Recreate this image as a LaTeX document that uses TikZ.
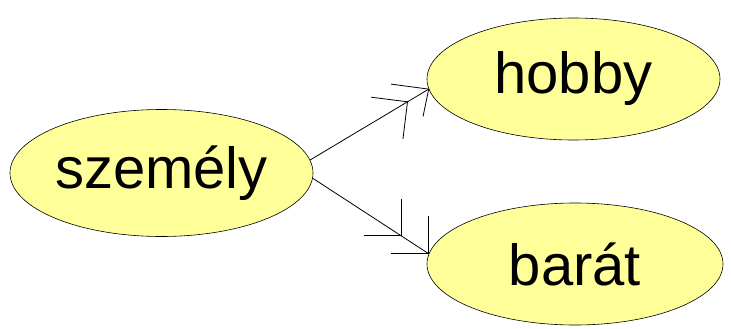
\documentclass[tikz,border=0pt]{standalone}
\usepackage{fontspec}
\setmainfont{Liberation Sans}
\usetikzlibrary{shapes.geometric,calc}
\definecolor{ellfill}{HTML}{FFFF99}
\begin{document}
\begin{tikzpicture}[x=1pt,y=-1pt,
  ent/.style={ellipse,draw=black,line width=0.6pt,fill=ellfill,inner sep=0pt,
    font=\fontsize{58}{60}\selectfont},
  conn/.style={draw=black,line width=0.8pt},
  arm/.style={draw=black,line width=0.8pt}]
\useasboundingbox (0,0) rectangle (731,329);
\node[ent,minimum width=303,minimum height=127] (sz) at (161.5,173) {személy};
\node[ent,minimum width=293,minimum height=122] (hobby) at (573.5,79) {hobby};
\node[ent,minimum width=296,minimum height=122] (barat) at (575,264) {barát};
% connector to hobby
\coordinate (t1) at (hobby.184);
\coordinate (s1) at (sz.5);
\draw[conn] (s1) -- (t1);
\coordinate (t1b) at ($(t1)!24.7pt!(s1)$);
\draw[arm] (t1) ++(-37.7,-5) -- (t1) -- ++(-5.7,27.4);
\draw[arm] (t1b) ++(-36.3,-4.6) -- (t1b) -- ++(-4.6,37.4);
% connector to barat
\coordinate (t2) at (barat.176.5);
\coordinate (s2) at (sz.-2.5);
\draw[conn] (s2) -- (t2);
\coordinate (t2b) at ($(t2)!33pt!(s2)$);
\draw[arm] (t2) ++(-37.7,0) -- (t2) -- ++(0,-37.7);
\draw[arm] (t2b) ++(-37.4,0) -- (t2b) -- ++(0,-36.7);
\end{tikzpicture}
\end{document}
